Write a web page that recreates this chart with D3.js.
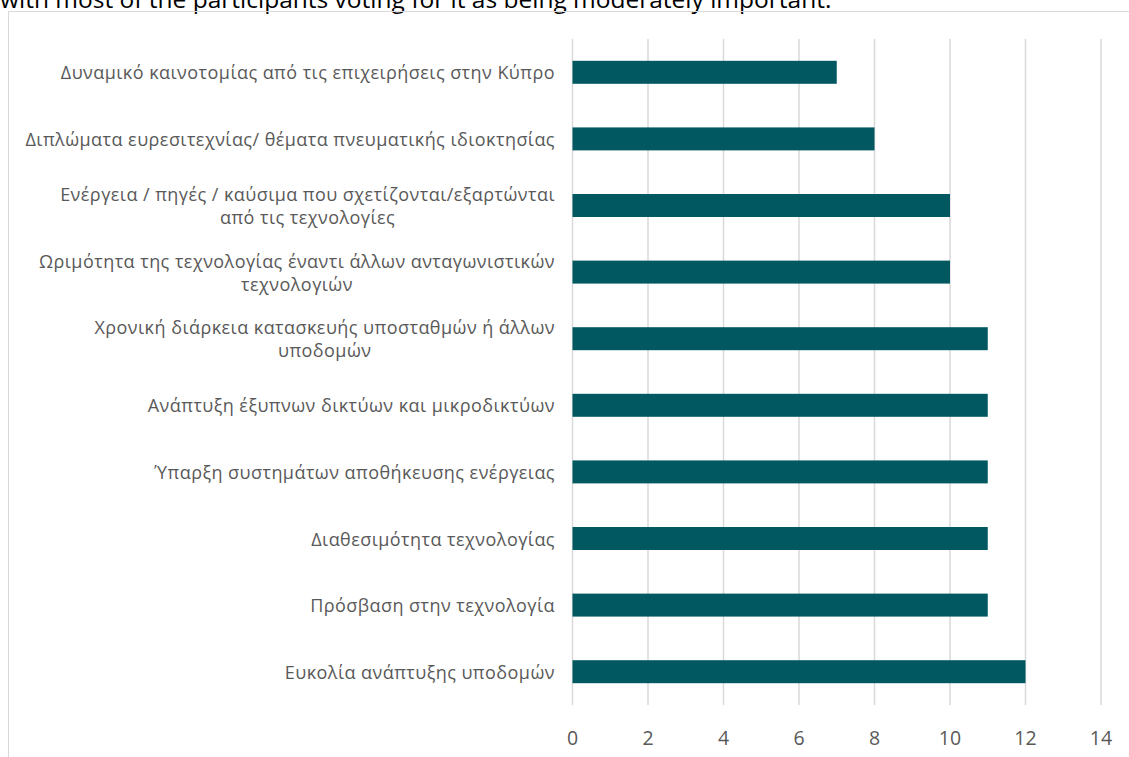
<!DOCTYPE html>
<html>
<head>
<meta charset="utf-8">
<script src="https://cdn.jsdelivr.net/npm/d3@7"></script>
<style>
  body { margin: 0; background: #fff; }
  svg { display: block; }
</style>
</head>
<body>
<div id="chart"></div>
<script>
// categories top to bottom, each line of a label is one entry
var categories = [
  ["Δυναμικό καινοτομίας από τις επιχειρήσεις στην Κύπρο"],
  ["Διπλώματα ευρεσιτεχνίας/ θέματα πνευματικής ιδιοκτησίας"],
  ["Ενέργεια / πηγές / καύσιμα που σχετίζονται/εξαρτώνται", "από τις τεχνολογίες"],
  ["Ωριμότητα της τεχνολογίας έναντι άλλων ανταγωνιστικών", "τεχνολογιών"],
  ["Χρονική διάρκεια κατασκευής υποσταθμών ή άλλων", "υποδομών"],
  ["Ανάπτυξη έξυπνων δικτύων και μικροδικτύων"],
  ["Ύπαρξη συστημάτων αποθήκευσης ενέργειας"],
  ["Διαθεσιμότητα τεχνολογίας"],
  ["Πρόσβαση στην τεχνολογία"],
  ["Ευκολία ανάπτυξης υποδομών"]
];
var values = [7, 8, 10, 10, 11, 11, 11, 11, 11, 12];
var xTicks = [0, 2, 4, 6, 8, 10, 12, 14];
var introText = "with most of the participants voting for it as being moderately important.";

var W = 1129, H = 757;
var svg = d3.select('#chart').append('svg')
  .attr('width', W)
  .attr('height', H);

// caption from the surrounding document, cut at the top
svg.append('text')
  .attr('x', 0)
  .attr('y', 8)
  .attr('font-family', 'Open Sans, sans-serif')
  .attr('font-size', 24.5)
  .attr('fill', '#000')
  .text(introText);

// chart frame, runs off the right and bottom edge
svg.append('rect')
  .attr('x', 8.5)
  .attr('y', 11.5)
  .attr('width', 1200)
  .attr('height', 800)
  .attr('fill', 'none')
  .attr('stroke', '#d9d9d9');

var x = d3.scaleLinear().domain([0, 14]).range([572.5, 1101]);
var y = d3.scaleBand()
  .domain(d3.range(categories.length))
  .range([39, 705])
  .paddingInner(0.655)
  .paddingOuter(0.3275);

// gridlines
svg.append('g').selectAll('line').data(xTicks)
  .enter().append('line')
  .attr('x1', function (d) { return x(d); })
  .attr('x2', function (d) { return x(d); })
  .attr('y1', 39)
  .attr('y2', 705)
  .attr('stroke', '#d9d9d9')
  .attr('stroke-width', 1.5);

// bars
svg.append('g').selectAll('rect').data(values)
  .enter().append('rect')
  .attr('x', x(0))
  .attr('y', function (d, i) { return y(i); })
  .attr('width', function (d) { return x(d) - x(0); })
  .attr('height', y.bandwidth())
  .attr('fill', '#015861');

// x axis tick labels
svg.append('g').selectAll('text').data(xTicks)
  .enter().append('text')
  .attr('x', function (d) { return x(d); })
  .attr('y', 745)
  .attr('text-anchor', 'middle')
  .attr('font-family', 'Open Sans, sans-serif')
  .attr('font-size', 19.5)
  .attr('fill', '#595959')
  .text(function (d) { return d; });

// category labels: block right aligned, lines centred within the block
var labelRight = 555, lineH = 23;
var groups = svg.append('g').selectAll('g').data(categories)
  .enter().append('g');

groups.each(function (lines, i) {
  var g = d3.select(this);
  var cy = y(i) + y.bandwidth() / 2;
  var texts = g.selectAll('text').data(lines)
    .enter().append('text')
    .attr('font-family', 'Open Sans, sans-serif')
    .attr('font-size', 18)
    .attr('letter-spacing', 0.45)
    .attr('fill', '#595959')
    .attr('text-anchor', 'middle')
    .attr('dominant-baseline', 'central')
    .attr('y', function (d, k) { return cy + (k - (lines.length - 1) / 2) * lineH; })
    .text(function (d) { return d; });
  var maxW = 0;
  texts.each(function () { maxW = Math.max(maxW, this.getComputedTextLength()); });
  texts.attr('x', labelRight - maxW / 2);
});
</script>
</body>
</html>
